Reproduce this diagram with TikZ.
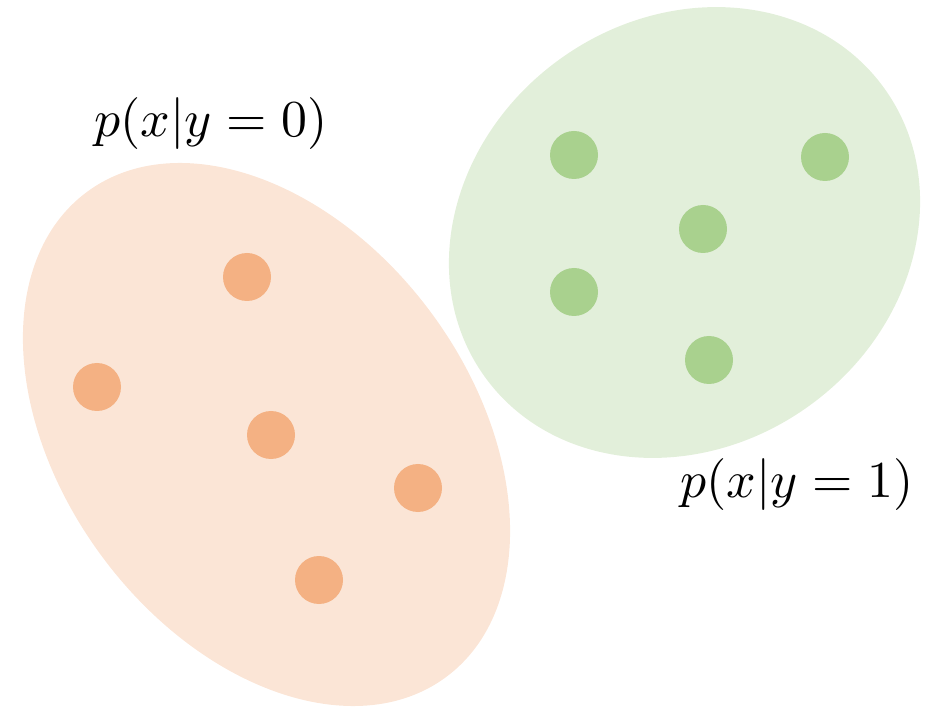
\documentclass[tikz,border=0pt]{standalone}
\usepackage{graphicx}
\usetikzlibrary{positioning}
\definecolor{peach}{HTML}{FBE5D6}
\definecolor{apricot}{HTML}{F4B183}
\definecolor{mint}{HTML}{E2EFDA}
\definecolor{leaf}{HTML}{A9D18E}

\begin{document}
\begin{tikzpicture}[x=0.2mm,y=-0.2mm,
  odot/.style={circle,fill=apricot,minimum size=9.6mm,inner sep=0pt},
  gdot/.style={circle,fill=leaf,minimum size=9.6mm,inner sep=0pt},
  lbl/.style={anchor=base,inner sep=0pt}]
  \useasboundingbox (0,0) rectangle (936,707);

  % Class y=0
  \fill[peach,rotate around={-53.5:(266.5,434.5)}] (266.5,434.5)
    ellipse[x radius=60.36mm,y radius=40.96mm];
  \node[odot] (o1) at (247,277) {};
  \node[odot] (o2) at (97,387) {};
  \node[odot] (o3) at (271,435) {};
  \node[odot] (o4) at (418,488) {};
  \node[odot] (o5) at (319,580) {};
  \node[lbl] (l0) at (211,137) {\scalebox{2.95}{$p(x|y=0)$}};

  % Class y=1
  \fill[mint,rotate around={36:(684.5,232.5)}] (684.5,232.5)
    ellipse[x radius=49.28mm,y radius=42.7mm];
  \node[gdot] (g1) at (574,155) {};
  \node[gdot] (g2) at (825,157) {};
  \node[gdot] (g3) at (703,229) {};
  \node[gdot] (g4) at (574,292) {};
  \node[gdot] (g5) at (709,360) {};
  \node[lbl] (l1) at (797,497) {\scalebox{2.95}{$p(x|y=1)$}};
\end{tikzpicture}
\end{document}
